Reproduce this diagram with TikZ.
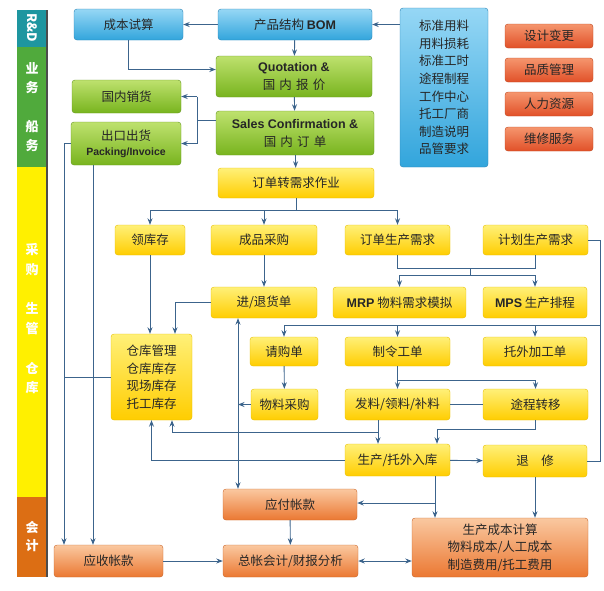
\documentclass[tikz,border=0pt]{standalone}
\usepackage{fontspec}
\setmainfont{Noto Sans CJK SC}
\usetikzlibrary{arrows.meta,calc}
\definecolor{lc}{RGB}{60,100,140}
\definecolor{bandteal}{RGB}{30,150,160}
\definecolor{bandgreen}{RGB}{80,170,60}
\definecolor{bandyellow}{RGB}{255,240,0}
\definecolor{bandorange}{RGB}{220,110,20}
\definecolor{blueT}{RGB}{150,215,245}\definecolor{blueB}{RGB}{50,165,220}\definecolor{blueD}{RGB}{40,130,180}
\definecolor{greenT}{RGB}{190,225,110}\definecolor{greenB}{RGB}{120,180,30}\definecolor{greenD}{RGB}{100,150,30}
\definecolor{yelT}{RGB}{255,240,120}\definecolor{yelB}{RGB}{255,205,0}\definecolor{yelD}{RGB}{230,190,0}
\definecolor{orT}{RGB}{250,200,160}\definecolor{orB}{RGB}{235,120,50}\definecolor{orD}{RGB}{200,100,40}
\definecolor{rdT}{RGB}{245,150,110}\definecolor{rdB}{RGB}{225,80,40}\definecolor{rdD}{RGB}{190,70,30}
\tikzset{
 bx/.style={rounded corners=3pt,inner sep=0pt,align=center,font=\fontsize{12.5}{15}\selectfont,text=black!85},
 bluebox/.style={bx,draw=blueD,top color=blueT,bottom color=blueB},
 greenbox/.style={bx,draw=greenD,top color=greenT,bottom color=greenB},
 yellowbox/.style={bx,draw=yelD,top color=yelT,bottom color=yelB},
 orangebox/.style={bx,draw=orD,top color=orT,bottom color=orB},
 redbox/.style={bx,draw=rdD,top color=rdT,bottom color=rdB},
 ln/.style={draw=lc,line width=0.9pt},
 arr/.style={ln,-{Stealth[length=6.5pt,width=5pt]}},
 darr/.style={ln,{Stealth[length=6.5pt,width=5pt]}-{Stealth[length=6.5pt,width=5pt]}},
 bandtxt/.style={text=white,font=\bfseries\fontsize{13}{15}\selectfont,inner sep=0pt},
}
\newcommand{\bx}[6]{\node[#1,minimum width=#4pt,minimum height=#5pt] (#2) at (#3) {#6};}
\begin{document}
\begin{tikzpicture}[x=1pt,y=-1pt]
\useasboundingbox (0,0) rectangle (604,590);
% bands
\fill[bandteal] (17,10) rectangle (47,47);
\fill[bandgreen] (17,47) rectangle (47,167);
\fill[bandyellow] (17,167) rectangle (47,497);
\fill[bandorange] (17,497) rectangle (47,577);
\draw[black!70,line width=1.2pt] (47,10) -- (47,577);
\node[bandtxt,rotate=-90] (brd) at (32,28) {R\&D};
\node[bandtxt] (b1) at (32,68) {业}; \node[bandtxt] (b2) at (32,88) {务};
\node[bandtxt] (b3) at (32,127) {船}; \node[bandtxt] (b4) at (32,146) {务};
\node[bandtxt] (b5) at (32,250) {采}; \node[bandtxt] (b6) at (32,270) {购};
\node[bandtxt] (b7) at (32,308) {生}; \node[bandtxt] (b8) at (32,328) {管};
\node[bandtxt] (b9) at (32,368) {仓}; \node[bandtxt] (b10) at (32,388) {库};
\node[bandtxt] (b11) at (32,527) {会}; \node[bandtxt] (b12) at (32,546) {计};
% nodes
\bx{bluebox}{cbss}{128.5,24.5}{109}{31}{成本试算}
\bx{bluebox}{bom}{295,24.5}{154}{31}{产品结构 \textbf{\fontspec{Liberation Sans}BOM}}
\bx{bluebox,font=\fontsize{12.5}{17.6}\selectfont}{spec}{444,87.5}{88}{159}{标准用料\\用料损耗\\标准工时\\途程制程\\工作中心\\托工厂商\\制造说明\\品管要求}
\bx{redbox}{r1}{549,36}{88}{24}{设计变更}
\bx{redbox}{r2}{549,70}{88}{24}{品质管理}
\bx{redbox}{r3}{549,104}{88}{24}{人力资源}
\bx{redbox}{r4}{549,139}{88}{24}{维修服务}
\bx{greenbox,font=\fontsize{12.5}{18}\selectfont}{quo}{294,76.5}{156}{41}{{\fontspec{Liberation Sans}\bfseries Quotation \&}\\国\,\,内\,\,报\,\,价}
\bx{greenbox}{gnxh}{126.5,96.5}{109}{33}{国内销货}
\bx{greenbox}{ckch}{126,143.5}{110}{43}{出口出货\\{\fontspec{Liberation Sans}\bfseries\fontsize{10.5}{13}\selectfont Packing/Invoice}}
\bx{greenbox,font=\fontsize{12.5}{18}\selectfont}{sc}{295,133}{158}{44}{{\fontspec{Liberation Sans}\bfseries Sales Confirmation \&}\\国\,\,内\,\,订\,\,单}
\bx{yellowbox}{dzx}{296,183}{156}{30}{订单转需求作业}
\bx{yellowbox}{lkc}{150,240}{70}{30}{领库存}
\bx{yellowbox}{cpcg}{264,240}{106}{30}{成品采购}
\bx{yellowbox}{ddsc}{397.5,240}{105}{30}{订单生产需求}
\bx{yellowbox}{jhsc}{535.5,240}{105}{30}{计划生产需求}
\bx{yellowbox}{jth}{264,302.5}{106}{31}{进/退货单}
\bx{yellowbox}{mrp}{399.5,302.5}{133}{31}{{\fontspec{Liberation Sans}\bfseries MRP} 物料需求模拟}
\bx{yellowbox}{mps}{535,302.5}{104}{31}{{\fontspec{Liberation Sans}\bfseries MPS} 生产排程}
\bx{yellowbox,font=\fontsize{12.5}{17.5}\selectfont}{ck}{151.5,377}{81}{86}{仓库管理\\仓库库存\\现场库存\\托工库存}
\bx{yellowbox}{qgd}{284,351.5}{68}{29}{请购单}
\bx{yellowbox}{zlgd}{397.5,351.5}{105}{29}{制令工单}
\bx{yellowbox}{twjg}{535,351.5}{104}{29}{托外加工单}
\bx{yellowbox}{wlcg}{284.5,404.5}{67}{31}{物料采购}
\bx{yellowbox}{fl}{397.5,404.5}{105}{31}{发料/领料/补料}
\bx{yellowbox}{tczy}{535.5,404.5}{105}{31}{途程转移}
\bx{yellowbox}{rk}{397.5,460}{105}{32}{生产/托外入库}
\bx{yellowbox}{tx}{535,461}{104}{32}{退\quad 修}
\bx{orangebox}{yf}{290,504.5}{134}{31}{应付帐款}
\bx{orangebox}{ys}{108.5,561}{109}{32}{应收帐款}
\bx{orangebox}{zz}{290.5,561}{135}{32}{总帐会计/财报分析}
\bx{orangebox,font=\fontsize{12.5}{17.5}\selectfont}{cb}{500,547.5}{176}{59}{生产成本计算\\物料成本/人工成本\\制造费用/托工费用}
% helper coordinates
\coordinate (h210) at (0,210); \coordinate (h268) at (0,268); \coordinate (h275) at (0,275);
\coordinate (h325) at (0,325); \coordinate (h380) at (0,380); \coordinate (h432) at (0,432);
\coordinate (v600) at (600,0); \coordinate (v238) at (238,0); \coordinate (v378) at (378,0);
\coordinate (v437) at (437,0); \coordinate (v435) at (435,0); \coordinate (v64) at (64,0);
\coordinate (v93) at (93,0); \coordinate (v197) at (197,0); \coordinate (v470) at (470,0);
\coordinate (v175) at (175,0); \coordinate (v172) at (172,0); \coordinate (j503) at (435,503);
% connectors
\draw[arr] (bom.west) -- (cbss.east);
\draw[arr] (spec.west |- bom.east) -- (bom.east);
\draw[arr] (bom) -- (quo);
\draw[arr] (cbss.south) |- ([yshift=7pt]quo.west);
\draw[arr] (quo) -- (sc);
\draw[arr] (sc) -- (dzx);
\draw[ln] ([yshift=13pt]sc.west) -- ([yshift=13pt]sc.west -| v197);
\draw[ln] (gnxh.east -| v197) -- (ckch.east -| v197);
\draw[arr] (gnxh.east -| v197) -- (gnxh.east);
\draw[arr] (ckch.east -| v197) -- (ckch.east);
\draw[ln] (dzx.south) -- (dzx.south |- h210);
\draw[ln] (lkc.north |- h210) -- (ddsc.north |- h210);
\foreach \n in {lkc,cpcg,ddsc} \draw[arr] (\n.north |- h210) -- (\n.north);
\draw[ln] (ddsc.south) -- (ddsc.south |- h268) -| (jhsc.south);
\draw[ln] (v470 |- h268) -- (v470 |- h275);
\draw[ln] (mrp.north |- h275) -- (mps.north |- h275);
\draw[arr] (mrp.north |- h275) -- (mrp.north);
\draw[arr] (mps.north |- h275) -- (mps.north);
\draw[ln] (jhsc.east) -| (v600 |- tx.east) -- (tx.east);
\draw[ln] (v600 |- h325) -- (qgd.north |- h325);
\foreach \n in {qgd,zlgd,twjg} \draw[arr] (\n.north |- h325) -- (\n.north);
\draw[arr] (cpcg) -- (jth);
\draw[arr] (lkc.south) -- (lkc.south |- ck.north);
\draw[arr] (jth.west) -| (v175 |- ck.north);
\draw[arr] (qgd) -- (wlcg);
\draw[darr] (jth.south -| v238) -- (yf.north -| v238);
\draw[arr] (wlcg.west) -- (wlcg.west -| v238);
\draw[arr] (zlgd.south) -- (fl.north);
\draw[arr] (zlgd.south |- h380) -| (tczy.north);
\draw[ln] (fl.east) -- (tczy.west);
\draw[arr] (fl.south -| v378) -- (rk.north -| v378);
\draw[arr] (v378 |- h432) -| (v172 |- ck.south);
\draw[arr] (tczy.south) -- ++(0,9) -| (rk.north -| v437);
\draw[arr] (rk.west) -| (ck.south);
\draw[arr] (rk) -- (tx);
\draw[arr] (rk.south -| v435) -- (cb.north -| v435);
\draw[arr] (j503) -- (j503 -| yf.east);
\draw[arr] (tx.south) -- (tx.south |- cb.north);
\draw[arr] (yf) -- (zz);
\draw[arr] (ys) -- (zz);
\draw[darr] (zz.east) -- (zz.east -| cb.west);
\draw[arr] (ckch.west) -| (ys.north -| v64);
\draw[arr] (ckch.south -| v93) -- (ys.north -| v93);
\draw[ln] (ck.west) -- (ck.west -| v64);
\end{tikzpicture}
\end{document}
